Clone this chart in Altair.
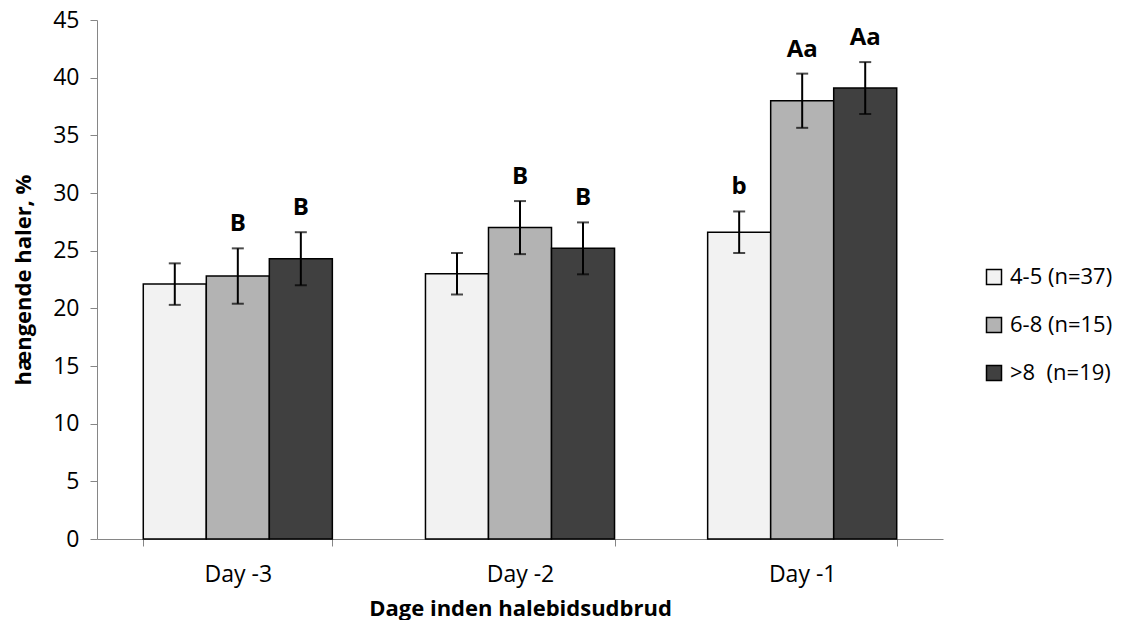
import altair as alt
import pandas as pd

days = ["Day -3", "Day -2", "Day -1"]
groups = ["4-5 (n=37)", "6-8 (n=15)", ">8 \u00a0(n=19)"]
mean_45 = [22.1, 23.0, 26.6]
mean_68 = [22.8, 27.0, 38.0]
mean_8 = [24.3, 25.2, 39.1]
err_45 = [1.8, 1.8, 1.8]
err_68 = [2.4, 2.3, 2.35]
err_8 = [2.3, 2.25, 2.25]
let_45 = ["", "", "b"]
let_68 = ["B", "B", "Aa"]
let_8 = ["B", "B", "Aa"]
colors = ["#F2F2F2", "#B3B3B3", "#404040"]

rows = []
for g, m, e, l in zip(groups, [mean_45, mean_68, mean_8], [err_45, err_68, err_8], [let_45, let_68, let_8]):
    for d, mv, ev, lv in zip(days, m, e, l):
        rows.append({"day": d, "group": g, "mean": mv, "lo": mv - ev, "hi": mv + ev, "letter": lv})
df = pd.DataFrame(rows)

FONT = "Open Sans"

x = alt.X("day:N", sort=days, scale=alt.Scale(paddingInner=0.33, paddingOuter=0.164),
          axis=alt.Axis(title="Dage inden halebidsudbrud", labelAngle=0, tickBand="extent",
                        domainColor="#868686", tickColor="#868686", tickSize=7,
                        labelPadding=17.5, labelFont=FONT, labelFontSize=23, labelColor="black",
                        titleFont=FONT, titleFontSize=22, titleFontWeight="bold", titleColor="black",
                        titleBaseline="alphabetic", titleY=76))
xo = alt.XOffset("group:N", sort=groups, scale=alt.Scale(domain=groups))

bars = alt.Chart(df).mark_bar(stroke="black", strokeWidth=1.5).encode(
    x=x,
    xOffset=xo,
    y=alt.Y("mean:Q", scale=alt.Scale(domain=[0, 45]),
            axis=alt.Axis(title="hængende haler, %", values=list(range(0, 46, 5)), grid=False,
                          domainColor="#868686", tickColor="#868686", tickSize=7, labelPadding=11,
                          labelFont=FONT, labelFontSize=23, labelColor="black",
                          titleFont=FONT, titleFontSize=22, titleFontWeight="bold", titleColor="black",
                          titleBaseline="alphabetic", titleX=-67)),
    fill=alt.Fill("group:N", sort=groups, scale=alt.Scale(domain=groups, range=colors),
                  legend=alt.Legend(title=None, orient="none", legendX=886, legendY=246,
                                    symbolType="square", symbolSize=225, symbolStrokeColor="black",
                                    symbolStrokeWidth=1.5, labelFont=FONT, labelFontSize=22,
                                    labelColor="black", labelOffset=5, rowPadding=26, padding=0,
                                    labelLimit=400)),
)

rules = alt.Chart(df).mark_rule(color="black", strokeWidth=2).encode(
    x=x, xOffset=xo, y="lo:Q", y2="hi:Q")
caps_hi = alt.Chart(df).mark_tick(color="black", thickness=2, size=12, orient="horizontal").encode(
    x=x, xOffset=xo, y="hi:Q")
caps_lo = alt.Chart(df).mark_tick(color="black", thickness=2, size=12, orient="horizontal").encode(
    x=x, xOffset=xo, y="lo:Q")
labels = alt.Chart(df).mark_text(font=FONT, fontSize=24, fontWeight="bold", color="black",
                                 baseline="alphabetic", dy=-17).encode(
    x=x, xOffset=xo, y="hi:Q", text="letter:N")

chart = alt.layer(bars, rules, caps_hi, caps_lo, labels).properties(
    width=846, height=519,
    autosize=alt.AutoSizeParams(type="none"),
    padding={"left": 89, "top": 12, "right": 172, "bottom": 81},
).configure_view(stroke=None)

chart.save("out.html", embed_options={"renderer": "svg", "actions": False})
